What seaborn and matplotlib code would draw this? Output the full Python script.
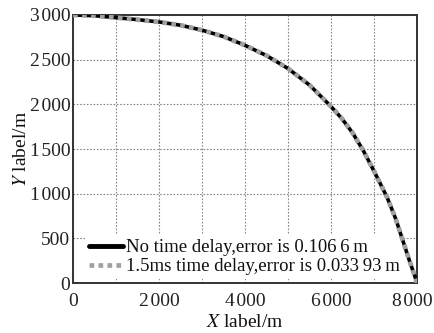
import matplotlib
matplotlib.use("Agg")
import matplotlib.pyplot as plt
import matplotlib.transforms as mtrans
import seaborn as sns

# trajectory points (m)
x_vals = [0, 500, 1000, 1500, 2000, 2500, 3000, 3500, 4000, 4500, 5000,
          5500, 6000, 6250, 6500, 6750, 7000, 7300, 7500, 7650, 7800, 7900, 8000]
y_no_delay = [3000, 2992, 2970, 2948, 2922, 2885, 2830, 2758, 2660, 2545, 2400,
              2215, 1975, 1840, 1680, 1480, 1250, 960, 720, 500, 280, 140, 0]
y_delay = [3000, 2992, 2970, 2948, 2922, 2885, 2830, 2758, 2660, 2545, 2400,
           2215, 1975, 1840, 1680, 1480, 1250, 960, 720, 500, 280, 140, 0]

label_no_delay = "No time delay,error is 0.106\u20096\u2009m"
label_delay = "1.5ms time delay,error is 0.033\u200993\u2009m"

x_ticks = [0, 1000, 2000, 3000, 4000, 5000, 6000, 7000, 8000]
x_ticklabels = ["0", "", "2\u200a000", "", "4\u200a000", "", "6\u200a000", "", "8\u200a000"]
y_ticks = [0, 500, 1000, 1500, 2000, 2500, 3000]
y_ticklabels = ["0", "500", "1\u200a000", "1\u200a500", "2\u200a000", "2\u200a500", "3\u200a000"]

sns.set_theme(style="white")
plt.rcParams["font.family"] = ["Liberation Serif", "DejaVu Serif"]
plt.rcParams["mathtext.fontset"] = "stix"

fig = plt.figure(figsize=(4.35, 3.33), dpi=100)
ax = fig.add_axes([0.168, 0.150, 0.791, 0.805])

sns.lineplot(x=x_vals, y=y_no_delay, ax=ax, color="black", lw=2.6,
             label=label_no_delay, sort=False, zorder=3)
sns.lineplot(x=x_vals, y=y_delay, ax=ax, color="#a0a0a0", lw=3.4,
             label=label_delay, sort=False, zorder=3.1)
ax.lines[1].set_dashes([1.0, 0.9])

ax.set_xlim(0, 8000)
ax.set_ylim(0, 3000)
ax.set_xticks(x_ticks)
ax.set_xticklabels(x_ticklabels)
ax.set_yticks(y_ticks)
ax.set_yticklabels(y_ticklabels)
ax.grid(True, color="#888888", linestyle=(0, (1.5, 1.5)), lw=0.8)
ax.tick_params(direction="in", length=3, width=0.8, labelsize=14,
               colors="#222222", pad=2)
ax.tick_params(axis="x", pad=7)
for sp in ax.spines.values():
    sp.set_color("#333333")
    sp.set_linewidth(1.4)

# last x label sits a bit left so it fits in the figure
last = ax.get_xticklabels()[-1]
last.set_transform(last.get_transform() +
                   mtrans.ScaledTranslation(-5 / 100, 0, fig.dpi_scale_trans))

ax.set_xlabel("$X$ label/m", fontsize=14, color="#111111", labelpad=3)
ax.set_ylabel("$Y$ label/m", fontsize=14, color="#111111", labelpad=0)

leg = ax.legend(loc="lower left", bbox_to_anchor=(0.035, 0.015), fontsize=13.5,
                frameon=True, facecolor="white", edgecolor="none", framealpha=1,
                handlelength=1.8, handletextpad=0.2, labelspacing=0.1,
                borderpad=0.2, borderaxespad=0)
leg.set_zorder(2)
for t in leg.get_texts():
    t.set_color("#111111")
leg.get_lines()[0].set_linewidth(3.5)

fig.savefig("out.png", dpi=100)
